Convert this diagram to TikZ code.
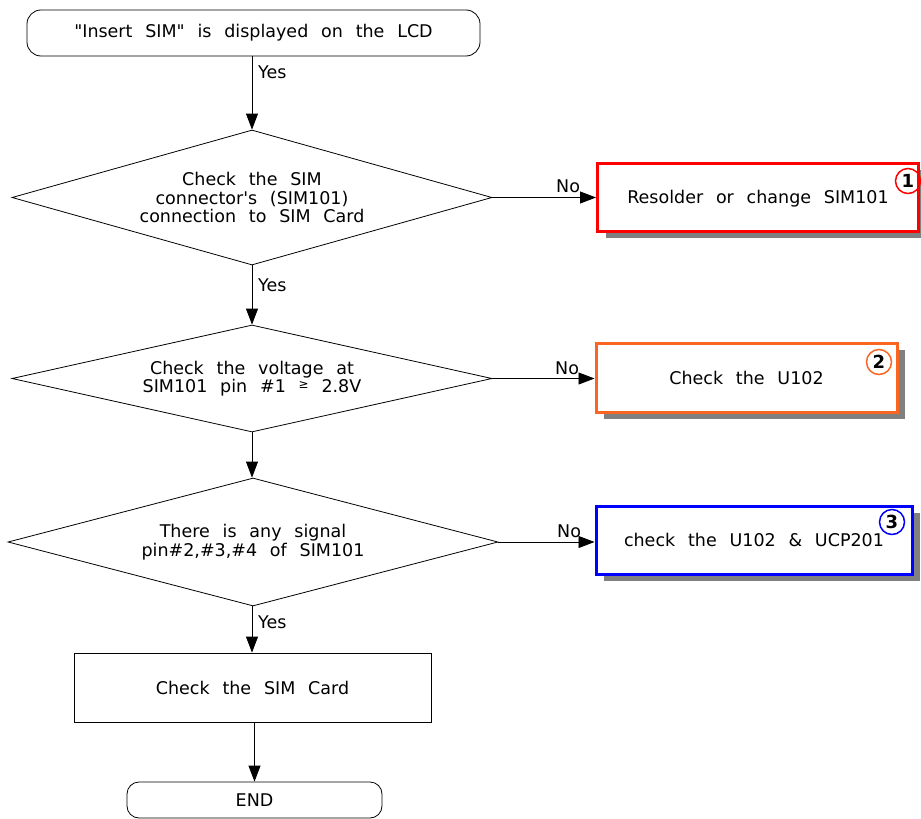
\documentclass[tikz,border=0pt]{standalone}
\usepackage{fontspec}
\setmainfont[Ligatures=TeXOff, WordSpace=2.3]{DejaVu Sans}
\usetikzlibrary{shapes.geometric,shadows,arrows.meta}

\definecolor{fixorange}{RGB}{250,102,34}

\begin{document}
\begin{tikzpicture}[x=1pt,y=-1pt,
every node/.style={font=\fontsize{17.5}{18.5}\selectfont},
terminal/.style={rectangle, draw=black, line width=0.8pt, rounded corners=14pt, inner sep=0pt},
decision/.style={diamond, draw=black, line width=0.8pt, aspect=3.5, inner sep=0pt, align=center},
process/.style={rectangle, draw=black, line width=0.8pt, inner sep=0pt, align=center},
repair/.style={rectangle, draw=#1, line width=3pt, fill=white, inner sep=0pt, text depth=0pt,
  drop shadow={shadow xshift=8pt, shadow yshift=-7pt, fill=gray, opacity=1}},
badge/.style={circle, draw=#1, line width=1.5pt, minimum size=25pt, inner sep=0pt,
  font=\fontsize{18}{19}\selectfont\bfseries},
flow/.style={line width=0.8pt, -{Triangle[length=16pt,width=12pt]}},
answer/.style={anchor=west, inner sep=0pt}
]
\useasboundingbox (0,0) rectangle (921,819);

\node[terminal, minimum width=453pt, minimum height=46pt](lcd_msg) at (253.5,33) {"Insert SIM" is displayed on the LCD};

\node[decision, minimum width=480pt, minimum height=135pt](chk_conn) at (252,197.5) {Check the SIM\\connector's (SIM101)\\connection to SIM Card};
\node[decision, minimum width=480pt, minimum height=107pt](chk_volt) at (252,378.5) {Check the voltage at\\SIM101 pin \#1 {\fontsize{12}{12}\selectfont\raisebox{4pt}{≥}} 2.8V};
\node[decision, minimum width=490pt, minimum height=128pt](chk_sig) at (253,542) {There is any signal\\pin\#2,\#3,\#4 of SIM101};

\node[process, minimum width=357pt, minimum height=69pt](chk_card) at (252.5,687.5) {Check the SIM Card};
\node[terminal, rounded corners=12pt, minimum width=255pt, minimum height=36pt](end_node) at (254.5,800) {END};

% repair actions
\node[repair=red, minimum width=321pt, minimum height=68pt](fix_sim) at (758,197) {Resolder or change SIM101};
\node[repair=fixorange, minimum width=301pt, minimum height=69pt](fix_u102) at (746.5,377.5) {Check the U102};
\node[repair=blue, minimum width=316pt, minimum height=68pt](fix_ucp) at (754,540) {check the U102 \& UCP201};

\node[badge=red](num_1) at (908,181) {1};
\node[badge=fixorange](num_2) at (879,362) {2};
\node[badge=blue](num_3) at (892,522) {3};

% main flow
\draw[flow] (lcd_msg.south -| chk_conn.north) -- (chk_conn.north);
\draw[flow] (chk_conn.south) -- (chk_volt.north);
\draw[flow] (chk_volt.south) -- (chk_volt.south |- chk_sig.north);
\draw[flow] (chk_volt.south |- chk_sig.south) -- (chk_volt.south |- chk_card.north);
\draw[flow] (chk_card.south -| end_node.north) -- (end_node.north);

\draw[flow] (chk_conn.east) -- (chk_conn.east -| fix_sim.west);
\draw[flow] (chk_volt.east) -- (chk_volt.east -| fix_u102.west);
\draw[flow] (chk_sig.east) -- (chk_sig.east -| fix_ucp.west);

\node[answer] (yes_1) at (258,72) {Yes};
\node[answer] (yes_2) at (258,285) {Yes};
\node[answer] (yes_3) at (258,622) {Yes};
\node[answer] (no_1) at (556,186) {No};
\node[answer] (no_2) at (555,368) {No};
\node[answer] (no_3) at (557,531) {No};
\end{tikzpicture}
\end{document}
